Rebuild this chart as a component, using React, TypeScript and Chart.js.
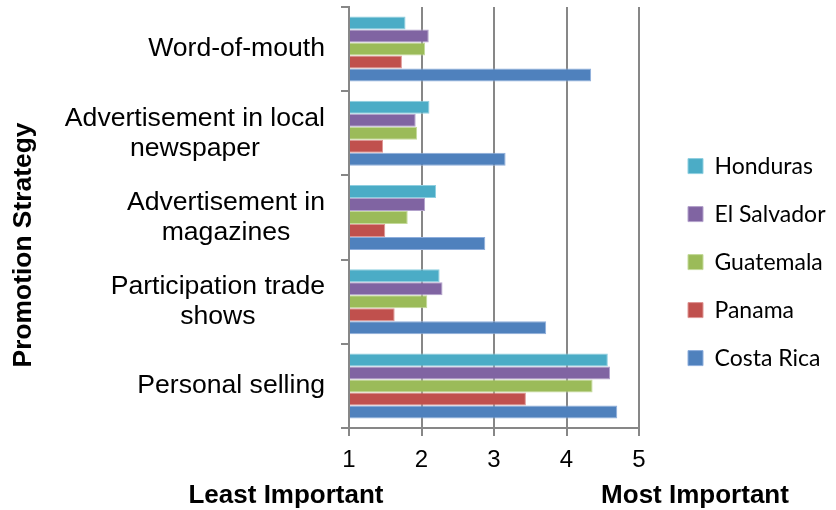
import { useEffect, useRef } from 'react';
import { Chart, registerables } from 'chart.js';

Chart.register(...registerables);

// ---- data ----
const categories: string[][] = [
  ['Word-of-mouth'],
  ['Advertisement in local', 'newspaper'],
  ['Advertisement in', 'magazines'],
  ['Participation trade', 'shows'],
  ['Personal selling'],
];
const seriesNames = ['Honduras', 'El Salvador', 'Guatemala', 'Panama', 'Costa Rica'];
const honduras = [1.78, 2.11, 2.2, 2.25, 4.57];
const elSalvador = [2.1, 1.92, 2.05, 2.29, 4.6];
const guatemala = [2.05, 1.94, 1.81, 2.08, 4.36];
const panama = [1.73, 1.47, 1.5, 1.63, 3.44];
const costaRica = [4.34, 3.16, 2.88, 3.72, 4.7];
const xTickValues = [1, 2, 3, 4, 5];
const yTitle = 'Promotion Strategy';
const leastLabel = 'Least Important';
const mostLabel = 'Most Important';

// ---- styles ----
const SANS = "'Liberation Sans', Arial, sans-serif";
const LEGEND_FONT = 'Lato';
const LEGEND_SIZE = 23;
const LEGEND_PAD = 25;
const LEGEND_BOX = 15;
const fills = ['#4BACC6', '#8064A2', '#9BBB59', '#C0504D', '#4F81BD'];
const edges = ['#8FCFE0', '#B3A2CC', '#C4DA9A', '#DE9694', '#8EAEDC'];
const GRID = '#878787';
const PLOT_LEFT = 349;
const PLOT_RIGHT = 639;
const LEGEND_BOX_X = 688;

const extraText = {
  id: 'extraText',
  afterDraw(chart: any) {
    const { ctx, chartArea, scales } = chart;
    const y = scales.y;
    ctx.save();
    ctx.fillStyle = '#000';
    ctx.textBaseline = 'middle';
    ctx.textAlign = 'center';
    ctx.font = `26.6px ${SANS}`;
    const right = chartArea.left - 24;
    categories.forEach((lines, i) => {
      const py = y.getPixelForValue(i);
      const w = Math.max(...lines.map((l) => ctx.measureText(l).width));
      const cx = right - w / 2;
      const lh = 30;
      lines.forEach((l, j) => ctx.fillText(l, cx, py + (j - (lines.length - 1) / 2) * lh));
    });
    ctx.font = `bold 26px ${SANS}`;
    ctx.fillText(leastLabel, chartArea.left - 63, 496);
    ctx.fillText(mostLabel, chartArea.right + 56, 496);
    ctx.translate(24, 245);
    ctx.rotate(-Math.PI / 2);
    ctx.font = `bold 26.4px ${SANS}`;
    ctx.fillText(yTitle, 0, 0);
    ctx.restore();
  },
};

export default function App() {
  const ref = useRef<HTMLCanvasElement>(null);
  useEffect(() => {
    if (!ref.current) return;
    const values = [honduras, elSalvador, guatemala, panama, costaRica];

    // size the legend so its boxes start at LEGEND_BOX_X
    const mctx = document.createElement('canvas').getContext('2d')!;
    mctx.font = `${LEGEND_SIZE}px ${LEGEND_FONT}`;
    const textW = Math.max(...seriesNames.map((n) => mctx.measureText(n).width));
    const legendLeft = LEGEND_BOX_X - LEGEND_PAD;
    const legendWidth = LEGEND_PAD + LEGEND_BOX + LEGEND_SIZE / 2 + textW + 10;
    const padRight = 836 - legendLeft - legendWidth;

    const chart = new Chart(ref.current, {
      type: 'bar',
      data: {
        labels: categories.map((c) => c.join(' ')),
        datasets: seriesNames.map((name, i) => ({
          label: name,
          data: values[i],
          backgroundColor: fills[i],
          borderColor: edges[i],
          borderWidth: 1,
          base: 1,
          barPercentage: 1,
          categoryPercentage: 0.772,
        })),
      },
      options: {
        indexAxis: 'y',
        responsive: false,
        animation: false,
        layout: { padding: { top: 7, right: padRight, bottom: 0, left: 0 } },
        plugins: {
          tooltip: { enabled: false },
          legend: {
            position: 'right',
            align: 'center',
            maxWidth: 400,
            title: { display: true, text: ' ', font: { size: 6 }, padding: 0 },
            labels: {
              boxWidth: LEGEND_BOX,
              boxHeight: LEGEND_BOX,
              padding: LEGEND_PAD,
              color: '#000',
              font: { family: LEGEND_FONT, size: LEGEND_SIZE },
            },
          },
        },
        scales: {
          x: {
            type: 'linear',
            min: 1,
            max: 5,
            afterBuildTicks: (s: any) => {
              s.ticks = xTickValues.map((v) => ({ value: v }));
            },
            ticks: { color: '#000', font: { family: SANS, size: 24 }, padding: 10 },
            grid: { color: GRID, lineWidth: 2, tickLength: 8 },
            border: { color: GRID, width: 2 },
            afterFit: (s: any) => {
              s.height = 82;
            },
          },
          y: {
            type: 'category',
            ticks: { display: false },
            grid: { offset: true, drawOnChartArea: false, color: GRID, lineWidth: 2, tickLength: 8 },
            border: { color: GRID, width: 2 },
            afterFit: (s: any) => {
              s.width = PLOT_LEFT;
            },
          },
          gap: {
            type: 'linear',
            position: 'right',
            display: true,
            grid: { display: false },
            border: { display: false },
            ticks: { display: false },
            afterFit: (s: any) => {
              s.width = legendLeft - PLOT_RIGHT;
            },
          },
        },
      } as any,
      plugins: [extraText],
    });
    return () => chart.destroy();
  }, []);
  return (
    <div style={{ position: 'absolute', left: 0, top: 0, width: 836, height: 510, background: '#fff' }}>
      <canvas ref={ref} width={836} height={510} style={{ display: 'block' }} />
    </div>
  );
}
